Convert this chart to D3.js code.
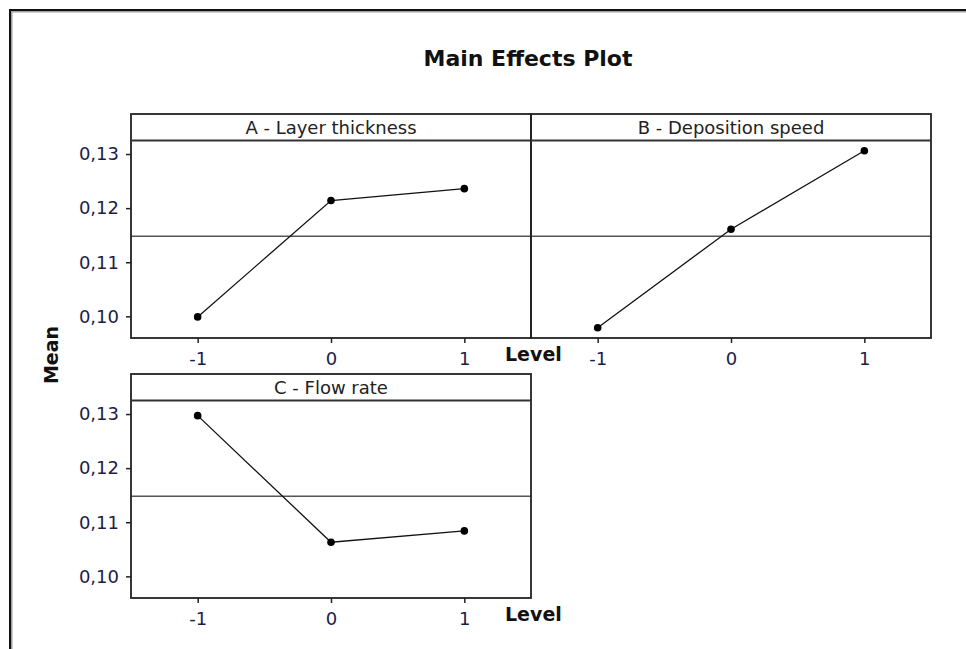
<!DOCTYPE html>
<html>
<meta charset="utf-8">
<head>
    <!-- load D3 -->
    <script src="https://d3js.org/d3.v7.min.js"></script>
    <style>
        body { margin: 0; background: #fff; }
        text { font-family: "DejaVu Sans", sans-serif; }
    </style>
</head>
<body>
    <div id="my_dataviz"></div>
</body>

<script>
    // data
    const levels = [-1, 0, 1];
    const levelLabels = ["-1", "0", "1"];
    const factors = ["A - Layer thickness", "B - Deposition speed", "C - Flow rate"];
    const meanA = [0.0999, 0.1214, 0.1236];
    const meanB = [0.0979, 0.1161, 0.1306];
    const meanC = [0.1297, 0.1063, 0.1084];
    const grandMean = 0.1148;
    const yTicks = [0.10, 0.11, 0.12, 0.13];
    const yTickLabels = ["0,10", "0,11", "0,12", "0,13"];

    const width = 966, height = 649;
    const panelW = 400, stripH = 26.5, plotH = 197.5;
    const panels = [
        { name: factors[0], means: meanA, left: 131, top: 114, yAxis: true },
        { name: factors[1], means: meanB, left: 531, top: 114, yAxis: false },
        { name: factors[2], means: meanC, left: 131, top: 374, yAxis: true }
    ];

    const svg = d3.select("#my_dataviz")
        .append("svg")
            .attr("width", width)
            .attr("height", height);

    // outer frame (top + left edge with a grey shadow)
    svg.append("path")
        .attr("d", `M11.8,${height} V11.8 H${width}`)
        .attr("fill", "none")
        .attr("stroke", "#a0a0a0")
        .attr("stroke-width", 1.5);
    svg.append("path")
        .attr("d", `M10,${height} V10 H${width}`)
        .attr("fill", "none")
        .attr("stroke", "#111")
        .attr("stroke-width", 2);

    // title
    svg.append("text")
        .attr("x", 528)
        .attr("y", 66)
        .attr("text-anchor", "middle")
        .style("font-size", "22px")
        .style("font-weight", "bold")
        .attr("fill", "#111")
        .text("Main Effects Plot");

    const x = d3.scaleLinear()
        .domain([-1.5, 1.5])
        .range([0, panelW]);

    const y = d3.scaleLinear()
        .domain([0.0960, 0.1325])
        .range([plotH, 0]);

    const line = d3.line()
        .x((d, i) => x(levels[i]))
        .y(d => y(d));

    panels.forEach(p => {
        const g = svg.append("g")
            .attr("transform", `translate(${p.left}, ${p.top + stripH})`);

        // X axis
        const xa = g.append("g")
            .attr("transform", `translate(0, ${plotH})`)
            .call(d3.axisBottom(x)
                .tickValues(levels)
                .tickFormat((d, i) => levelLabels[i])
                .tickSize(5)
                .tickPadding(9));
        xa.select(".domain").remove();

        // Y axis
        if (p.yAxis) {
            g.append("g")
                .call(d3.axisLeft(y)
                    .tickValues(yTicks)
                    .tickFormat((d, i) => yTickLabels[i])
                    .tickSize(5)
                    .tickPadding(7))
                .select(".domain").remove();
        }

        g.selectAll(".tick line")
            .attr("stroke", "#222")
            .attr("stroke-width", 1.5);
        g.selectAll(".tick text")
            .attr("fill", "#1c1c48")
            .style("font-size", "18px")
            .style("font-family", "DejaVu Sans");

        // reference line at grand mean
        g.append("line")
            .attr("x1", 0)
            .attr("x2", panelW)
            .attr("y1", y(grandMean))
            .attr("y2", y(grandMean))
            .attr("stroke", "#555")
            .attr("stroke-width", 1.4);

        // means
        g.append("path")
            .datum(p.means)
            .attr("d", line)
            .attr("fill", "none")
            .attr("stroke", "#111")
            .attr("stroke-width", 1.3);

        g.selectAll("circle")
            .data(p.means)
            .join("circle")
                .attr("cx", (d, i) => x(levels[i]))
                .attr("cy", d => y(d))
                .attr("r", 3.8)
                .attr("fill", "#000");

        // panel border + strip
        svg.append("rect")
            .attr("x", p.left)
            .attr("y", p.top)
            .attr("width", panelW)
            .attr("height", stripH + plotH)
            .attr("fill", "none")
            .attr("stroke", "#222")
            .attr("stroke-width", 1.8);
        svg.append("line")
            .attr("x1", p.left)
            .attr("x2", p.left + panelW)
            .attr("y1", p.top + stripH)
            .attr("y2", p.top + stripH)
            .attr("stroke", "#333")
            .attr("stroke-width", 1.8);
        svg.append("text")
            .attr("x", p.left + panelW / 2)
            .attr("y", p.top + 20)
            .attr("text-anchor", "middle")
            .style("font-size", "18px")
            .attr("fill", "#222")
            .text(p.name);
    });

    // axis titles
    [114, 374].forEach(top => {
        svg.append("text")
            .attr("x", 505)
            .attr("y", top + stripH + plotH + 22.5)
            .style("font-size", "19px")
            .style("font-weight", "bold")
            .attr("fill", "#111")
            .text("Level");
    });

    svg.append("text")
        .attr("transform", "translate(58, 355) rotate(-90)")
        .attr("text-anchor", "middle")
        .style("font-size", "19px")
        .style("font-weight", "bold")
        .attr("fill", "#111")
        .text("Mean");
</script>
</html>
